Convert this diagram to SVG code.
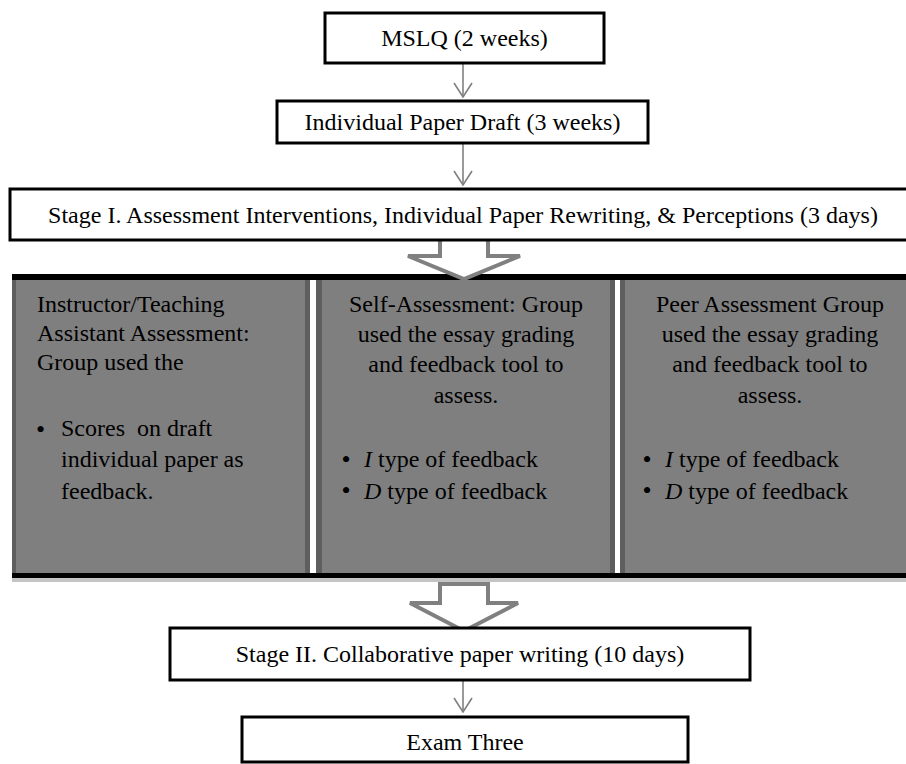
<svg xmlns="http://www.w3.org/2000/svg" width="906" height="764" viewBox="0 0 906 764">
<defs>
<style>
text{font-family:"Liberation Serif","Times New Roman",serif;font-size:24px;fill:#000}
.box{fill:#fff;stroke:#000;stroke-width:3}
.c{text-anchor:middle}
.b{font-size:26px}
.thin{stroke:#808080;stroke-width:1.6;fill:none}
.block{fill:#fff;stroke:#808080;stroke-width:4;stroke-linejoin:miter}
.dark{fill:#5e5e5e}
</style>
<marker id="vh" viewBox="0 0 16 20" refX="15" refY="10" markerWidth="16" markerHeight="20" markerUnits="userSpaceOnUse" orient="auto">
<path d="M1,1 L15,10 L1,19" fill="none" stroke="#808080" stroke-width="1.6"/>
</marker>
</defs>
<rect width="906" height="764" fill="#fff"/>

<g id="panels">
<rect x="12" y="275" width="894" height="303" fill="#7f7f7f"/>
<rect x="12" y="280" width="4" height="293" class="dark"/>
<rect x="305" y="280" width="5" height="293" class="dark"/>
<rect x="310" y="280" width="6" height="293" fill="#fff"/>
<rect x="316" y="280" width="6" height="293" class="dark"/>
<rect x="610" y="280" width="5" height="293" class="dark"/>
<rect x="615" y="280" width="5" height="293" fill="#fff"/>
<rect x="620" y="280" width="5" height="293" class="dark"/>
<rect x="12" y="274" width="894" height="6" fill="#000"/>
<rect x="12" y="573" width="894" height="5" fill="#000"/>
<rect x="12" y="578" width="894" height="4" fill="#c4c4c4"/>
</g>

<g id="connectors">
<line x1="463" y1="63" x2="463" y2="97" class="thin" marker-end="url(#vh)"/>
<line x1="463" y1="143" x2="463" y2="185" class="thin" marker-end="url(#vh)"/>
<line x1="463" y1="680" x2="463" y2="712" class="thin" marker-end="url(#vh)"/>
<path class="block" d="M440,236 L488,236 L488,256 L520,256 L464,279 L408,256 L440,256 Z"/>
<path class="block" d="M440,584 L488,584 L488,603 L518,603 L464,631 L410,603 L440,603 Z"/>
</g>

<g id="n-mslq">
<rect x="325" y="13" width="279" height="50" class="box"/>
<text x="464.5" y="46" class="c">MSLQ (2 weeks)</text>
</g>
<g id="n-draft">
<rect x="277" y="101" width="371" height="42" class="box"/>
<text x="462.5" y="130" class="c">Individual Paper Draft (3 weeks)</text>
</g>
<g id="n-stage1">
<rect x="10" y="189" width="904" height="51" class="box"/>
<text x="463" y="223" class="c">Stage I. Assessment Interventions, Individual Paper Rewriting, &amp; Perceptions (3 days)</text>
</g>

<g id="n-instructor">
<text x="37" y="312">Instructor/Teaching</text>
<text x="37" y="341">Assistant Assessment:</text>
<text x="37" y="370">Group used the</text>
<text x="36" y="437.5" class="b">•</text>
<text x="61" y="436" xml:space="preserve">Scores  on draft</text>
<text x="61" y="467">individual paper as</text>
<text x="61" y="499">feedback.</text>
</g>
<g id="n-self">
<text x="466" y="312" class="c">Self-Assessment: Group</text>
<text x="466" y="342" class="c">used the essay grading</text>
<text x="466" y="372" class="c">and feedback tool to</text>
<text x="466" y="403" class="c">assess.</text>
<text x="341.5" y="467.5" class="b">•</text>
<text x="364" y="467"><tspan font-style="italic">I</tspan> type of feedback</text>
<text x="341.5" y="499" class="b">•</text>
<text x="364" y="499"><tspan font-style="italic">D</tspan> type of feedback</text>
</g>
<g id="n-peer">
<text x="770" y="312" class="c">Peer Assessment Group</text>
<text x="770" y="342" class="c">used the essay grading</text>
<text x="770" y="372" class="c">and feedback tool to</text>
<text x="770" y="403" class="c">assess.</text>
<text x="642.5" y="467.5" class="b">•</text>
<text x="665" y="467"><tspan font-style="italic">I</tspan> type of feedback</text>
<text x="642.5" y="499" class="b">•</text>
<text x="665" y="499"><tspan font-style="italic">D</tspan> type of feedback</text>
</g>

<g id="n-stage2">
<rect x="170" y="628" width="580" height="52" class="box"/>
<text x="460" y="662" class="c">Stage II. Collaborative paper writing (10 days)</text>
</g>
<g id="n-exam">
<rect x="242" y="717" width="446" height="45" class="box"/>
<text x="465" y="750" class="c">Exam Three</text>
</g>
</svg>
